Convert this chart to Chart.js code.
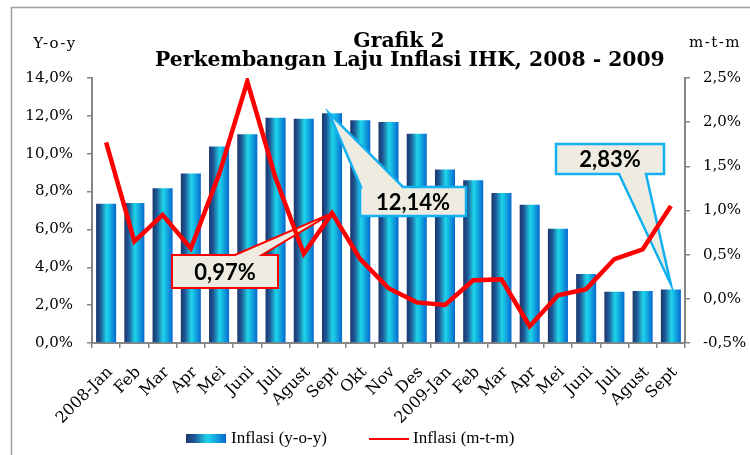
<!DOCTYPE html>
<html>
<head>
<meta charset="utf-8">
<script src="https://cdn.jsdelivr.net/npm/chart.js@4/dist/chart.umd.min.js"></script>
<style>
html,body{margin:0;padding:0;background:#fff;}
#wrap{width:750px;height:455px;position:relative;}
</style>
</head>
<body>
<div id="wrap"><canvas id="c" width="750" height="455"></canvas></div>
<script>
const categories = ['2008-Jan','Feb','Mar','Apr','Mei','Juni','Juli','Agust','Sept','Okt','Nov','Des',
                    '2009-Jan','Feb','Mar','Apr','Mei','Juni','Juli','Agust','Sept'];
const inflasiYoy = [7.36,7.40,8.17,8.96,10.38,11.03,11.90,11.85,12.14,11.77,11.68,11.06,
                    9.17,8.60,7.92,7.31,6.04,3.65,2.71,2.75,2.83];
const inflasiMtm = [1.77,0.65,0.95,0.57,1.41,2.46,1.37,0.51,0.97,0.45,0.12,-0.04,
                    -0.07,0.21,0.22,-0.31,0.04,0.11,0.45,0.56,1.05];
const leftTickValues = [0,2,4,6,8,10,12,14];
const rightTickValues = [-0.5,0,0.5,1.0,1.5,2.0,2.5];
const seriesNames = ['Inflasi (y-o-y)','Inflasi (m-t-m)'];
const titleLines = ['Grafik 2','Perkembangan Laju Inflasi IHK, 2008 - 2009'];
const leftUnit = 'Y-o-y';
const rightUnit = 'm-t-m';
const calloutLabels = ['0,97%','12,14%','2,83%'];
const calloutSeries = [1,0,0];
const calloutIndex = [8,8,20];

const fmt = v => v.toFixed(1).replace('.', ',') + '%';
const BAR_PCT = 0.71;
const AXIS_GRAY = '#868686';

function makeBarGradient(c, cx, w){
  const g = c.createLinearGradient(cx - w/2, 0, cx + w/2, 0);
  g.addColorStop(0, '#1c356a');
  g.addColorStop(0.22, '#1e5a98');
  g.addColorStop(0.52, '#1ed3e8');
  g.addColorStop(0.62, '#17c2e6');
  g.addColorStop(1, '#0767cf');
  return g;
}

function barColor(ctx){
  const chart = ctx.chart;
  const xs = chart.scales && chart.scales.x;
  if (!xs || ctx.dataIndex === undefined || !isFinite(xs.width)) return '#18a8e0';
  const cx = xs.getPixelForValue(ctx.dataIndex);
  const w = xs.width / categories.length * BAR_PCT;
  return makeBarGradient(chart.ctx, cx, w);
}

// callout box geometry (layout/styling only)
const calloutStyle = [
  {box:[172,255,106,33], edge:'top',    base:[235,262], border:'#FF0000', lw:2,   tipDx:0,  tipDy:0},
  {box:[360,187,106,29], edge:'top',    base:[361,403], border:'#12B0EE', lw:2.5, tipDx:-3, tipDy:0},
  {box:[556,144,108,30], edge:'bottom', base:[619,646], border:'#12B0EE', lw:2.5, tipDx:0,  tipDy:-5}
];

function drawCallout(c, st, tip, text){
  const [x,y,w,h] = st.box;
  c.save();
  c.beginPath();
  if (st.edge === 'top'){
    c.moveTo(x, y);
    c.lineTo(st.base[0], y);
    c.lineTo(tip.x, tip.y);
    c.lineTo(st.base[1], y);
    c.lineTo(x+w, y);
    c.lineTo(x+w, y+h);
    c.lineTo(x, y+h);
    c.closePath();
  } else {
    c.moveTo(x, y);
    c.lineTo(x+w, y);
    c.lineTo(x+w, y+h);
    c.lineTo(st.base[1], y+h);
    c.lineTo(tip.x, tip.y);
    c.lineTo(st.base[0], y+h);
    c.lineTo(x, y+h);
    c.closePath();
  }
  c.fillStyle = '#EEECE1';
  c.fill();
  c.lineWidth = st.lw;
  c.strokeStyle = st.border;
  c.lineJoin = 'miter';
  c.stroke();
  c.fillStyle = '#000';
  c.font = 'bold 22px Lato';
  c.textAlign = 'center';
  c.textBaseline = 'middle';
  c.fillText(text, x + w/2, y + h/2 + 1);
  c.restore();
}

const decor = {
  id: 'decor',
  beforeDraw(chart){
    const c = chart.ctx;
    c.save();
    c.fillStyle = '#fff';
    c.fillRect(0,0,chart.width,chart.height);
    c.strokeStyle = '#A0A0A0';
    c.lineWidth = 1.5;
    c.strokeRect(11.5, 7.5, 800, 600);
    c.restore();
  },
  afterDatasetDraw(chart, args){
    if (args.index !== 0) return;
    const c = chart.ctx;
    for (let k = 0; k < calloutLabels.length; k++){
      const el = chart.getDatasetMeta(calloutSeries[k]).data[calloutIndex[k]];
      const st = calloutStyle[k];
      drawCallout(c, st, {x: el.x + st.tipDx, y: el.y + st.tipDy}, calloutLabels[k]);
    }
  },
  afterDraw(chart){
    const c = chart.ctx;
    c.save();
    c.fillStyle = '#000';
    c.textBaseline = 'alphabetic';
    c.textAlign = 'left';
    // title line 2 fitted to width
    let fs = 19;
    c.font = 'bold ' + fs + 'px "DejaVu Serif"';
    const w2 = c.measureText(titleLines[1]).width;
    fs = fs * 510 / w2;
    c.font = 'bold ' + fs.toFixed(2) + 'px "DejaVu Serif"';
    c.fillText(titleLines[1], 155, 66);
    c.textAlign = 'center';
    c.fillText(titleLines[0], 399, 47);
    // unit labels
    c.font = '15px "DejaVu Serif"';
    c.letterSpacing = '1.5px';
    c.textBaseline = 'middle';
    c.fillText(leftUnit, 55, 44);
    c.fillText(rightUnit, 715, 43);
    c.letterSpacing = '0px';
    // legend
    c.textAlign = 'left';
    c.fillStyle = makeBarGradient(c, 206, 40);
    c.fillRect(186, 434, 40, 9);
    c.strokeStyle = '#FF0000';
    c.lineWidth = 2;
    c.beginPath();
    c.moveTo(369, 439); c.lineTo(409, 439);
    c.stroke();
    c.fillStyle = '#000';
    c.font = '17px "Liberation Serif"';
    c.fillText(seriesNames[0], 231, 439);
    c.fillText(seriesNames[1], 413, 439);
    c.restore();
  }
};

const tickFont = {family: 'DejaVu Serif', size: 15};

new Chart(document.getElementById('c'), {
  data: {
    labels: categories,
    datasets: [
      {type: 'bar', label: seriesNames[0], data: inflasiYoy, yAxisID: 'y', order: 2,
       backgroundColor: barColor, borderWidth: 0, barPercentage: BAR_PCT, categoryPercentage: 1},
      {type: 'line', label: seriesNames[1], data: inflasiMtm, yAxisID: 'y1', order: 1,
       borderColor: '#FF0000', backgroundColor: '#FF0000', borderWidth: 4.5, pointRadius: 0,
       tension: 0, fill: false, borderJoinStyle: 'miter'}
    ]
  },
  options: {
    responsive: false,
    animation: false,
    devicePixelRatio: 1,
    layout: {padding: {top: 78, left: 0, right: 0, bottom: 0}},
    plugins: {legend: {display: false}, title: {display: false}, tooltip: {enabled: false}},
    scales: {
      x: {
        offset: true,
        grid: {display: true, drawOnChartArea: false, drawTicks: true, tickLength: 5, color: AXIS_GRAY, lineWidth: 1.5, offset: true},
        border: {display: true, color: AXIS_GRAY, width: 2},
        ticks: {font: {family: 'DejaVu Serif', size: 16}, color: '#000', minRotation: 45, maxRotation: 45, autoSkip: false, padding: 15, labelOffset: 4},
        afterFit(s){ s.height = 112; }
      },
      y: {
        position: 'left', min: 0, max: 14,
        afterBuildTicks(s){ s.ticks = leftTickValues.map(v => ({value: v})); },
        ticks: {font: tickFont, color: '#000', padding: 14, callback: v => fmt(v)},
        grid: {drawOnChartArea: false, drawTicks: true, tickLength: 5, color: AXIS_GRAY, lineWidth: 1.5},
        border: {display: true, color: AXIS_GRAY, width: 2},
        afterFit(s){ s.width = 92; }
      },
      y1: {
        position: 'right', min: -0.5, max: 2.5,
        afterBuildTicks(s){ s.ticks = rightTickValues.map(v => ({value: v})); },
        ticks: {font: tickFont, color: '#000', padding: 13, callback: v => fmt(v)},
        grid: {drawOnChartArea: false, drawTicks: true, tickLength: 5, color: AXIS_GRAY, lineWidth: 1.5},
        border: {display: true, color: AXIS_GRAY, width: 2},
        afterFit(s){ s.width = 65; }
      }
    }
  },
  plugins: [decor]
});
</script>
</body>
</html>
